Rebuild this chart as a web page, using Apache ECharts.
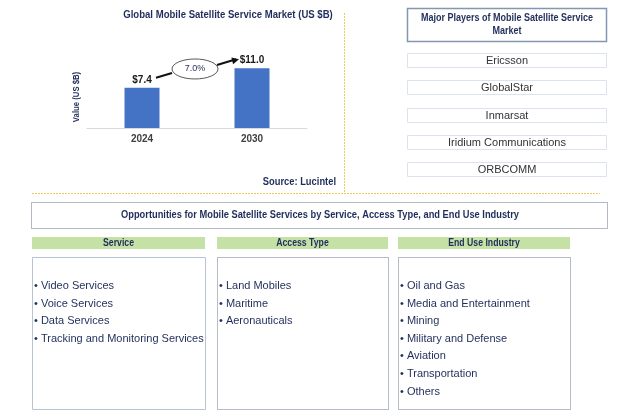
<!DOCTYPE html>
<html>
<head>
<meta charset="utf-8">
<script src="https://cdn.jsdelivr.net/npm/echarts@6/dist/echarts.min.js"></script>
<style>
html,body{margin:0;padding:0;background:#fff;}
#chart{width:641px;height:420px;}
</style>
</head>
<body>
<div id="chart"></div>
<script>
// ---- data ----
const years = ['2024', '2030'];
const marketValues = [7.4, 11.0];
const cagrLabel = '7.0%';
const chartTitle = 'Global Mobile Satellite Service Market (US $B)';
const yAxisName = 'Value (US $B)';
const sourceText = 'Source: Lucintel';
const playersTitle = ['Major Players of Mobile Satellite Service', 'Market'];
const players = ['Ericsson', 'GlobalStar', 'Inmarsat', 'Iridium Communications', 'ORBCOMM'];
const opportunitiesTitle = 'Opportunities for Mobile Satellite Services by Service, Access Type, and End Use Industry';
const segmentTitles = ['Service', 'Access Type', 'End Use Industry'];
const serviceItems = ['Video Services', 'Voice Services', 'Data Services', 'Tracking and Monitoring Services'];
const accessItems = ['Land Mobiles', 'Maritime', 'Aeronauticals'];
const endUseItems = ['Oil and Gas', 'Media and Entertainment', 'Mining', 'Military and Defense', 'Aviation', 'Transportation', 'Others'];

// ---- styles ----
const NAVY = '#1f2d5a';
const SANS = "'Liberation Sans', Arial, sans-serif";
const GOLD = '#f1c85a';

const chart = echarts.init(document.getElementById('chart'), null, {renderer: 'canvas'});

const option = {
  backgroundColor: '#ffffff',
  animation: false,
  grid: {left: 87, right: 641 - 307, top: 41, bottom: 420 - 128, containLabel: false},
  xAxis: {
    type: 'category',
    data: years,
    axisLine: {show: true, lineStyle: {color: '#d9d9d9', width: 1}},
    axisTick: {show: false},
    axisLabel: {color: '#404040', fontFamily: SANS, fontSize: 10, fontWeight: 'bold', margin: 6}
  },
  yAxis: {
    type: 'value',
    min: 0,
    max: 16,
    axisLine: {show: false},
    axisTick: {show: false},
    axisLabel: {show: false},
    splitLine: {show: false}
  },
  series: [{
    type: 'bar',
    data: marketValues,
    barWidth: 35,
    itemStyle: {color: '#4472c4'},
    label: {
      show: true,
      position: 'top',
      distance: 3,
      formatter: p => '$' + p.value.toFixed(1),
      color: '#1a1a1a',
      fontFamily: SANS,
      fontSize: 10,
      fontWeight: 'bold'
    }
  }]
};
chart.setOption(option);

// ---- annotations & layout boxes ----
const g = [];
function text(t, x, y, font, fill, align, sx, rot) {
  g.push({type: 'text', silent: true, x: x, y: y, scaleX: sx || 1, rotation: rot || 0,
    style: {text: t, x: 0, y: 0, font: font, fill: fill, align: align || 'center', verticalAlign: 'middle'}});
}
function rect(x, y, w, h, style) {
  g.push({type: 'rect', silent: true, shape: {x: x, y: y, width: w, height: h}, style: style});
}
function line(x1, y1, x2, y2, style) {
  g.push({type: 'line', silent: true, shape: {x1: x1, y1: y1, x2: x2, y2: y2}, style: style});
}
function arrow(x1, y1, x2, y2) {
  line(x1, y1, x2, y2, {stroke: '#111', lineWidth: 2});
}
function arrowHead(x1, y1, x2, y2) {
  const a = Math.atan2(y2 - y1, x2 - x1), L = 7, W = 3.5;
  const bx = x2 - L * Math.cos(a), by = y2 - L * Math.sin(a);
  g.push({type: 'polygon', silent: true, shape: {points: [[x2, y2],
    [bx + W * Math.sin(a), by - W * Math.cos(a)], [bx - W * Math.sin(a), by + W * Math.cos(a)]]},
    style: {fill: '#111'}});
}

const NB = 0.87; // condensed look for bold headings

// chart title, axis name & source
text(chartTitle, 228, 15, 'bold 11px ' + SANS, NAVY, 'center', NB);
text(yAxisName, 77, 97, 'bold 9px ' + SANS, NAVY, 'center', 0.86, Math.PI / 2);
text(sourceText, 336, 182, 'bold 11px ' + SANS, NAVY, 'right', 0.85);

// gold dashed separators
line(344.5, 13, 344.5, 193, {stroke: GOLD, lineWidth: 1, lineDash: [2, 1]});
line(32, 193.5, 600, 193.5, {stroke: GOLD, lineWidth: 1, lineDash: [2, 1]});

// CAGR bubble between the bar labels (positions derived from data)
const p0 = chart.convertToPixel({gridIndex: 0}, [0, marketValues[0]]);
const p1 = chart.convertToPixel({gridIndex: 0}, [1, marketValues[1]]);
const l0 = [p0[0], p0[1] - 9];
const l1 = [p1[0], p1[1] - 9];
const cx = (l0[0] + l1[0]) / 2 - 2, cy = (l0[1] + l1[1]) / 2;
g.push({type: 'ellipse', silent: true, shape: {cx: cx, cy: cy, rx: 23, ry: 10},
  style: {fill: '#fff', stroke: '#595959', lineWidth: 1}});
text(cagrLabel, cx, cy, '9px ' + SANS, NAVY);
arrow(l0[0] + 14, l0[1] - 1, cx - 23, cy + 4);
arrow(cx + 22, cy - 4, l1[0] - 16, l1[1]);
arrowHead(cx + 22, cy - 4, l1[0] - 13, l1[1]);

// Major players panel
rect(407.5, 8.5, 199, 33, {fill: '#fff', stroke: '#8496b0', lineWidth: 1.5});
text(playersTitle[0], 507, 18.5, 'bold 10px ' + SANS, NAVY, 'center', 0.9);
text(playersTitle[1], 507, 31, 'bold 10px ' + SANS, NAVY, 'center', 0.9);
players.forEach((p, i) => {
  const y = Math.round(53 + i * 27.3);
  rect(407.5, y + 0.5, 199, 14, {fill: '#fff', stroke: '#dde3ee', lineWidth: 1});
  text(p, 507, y + 8, '11px ' + SANS, '#333333');
});

// opportunities panel
rect(31.5, 202.5, 576, 26, {fill: '#fff', stroke: '#66738c', lineWidth: 1, lineDash: [1, 1]});
text(opportunitiesTitle, 320, 215.5, 'bold 10.5px ' + SANS, NAVY, 'center', 0.885);

const cols = [
  {x: 32, w: 173, items: serviceItems, dash: null},
  {x: 217, w: 171, items: accessItems, dash: [1, 1]},
  {x: 398, w: 172, items: endUseItems, dash: [1, 1]}
];
cols.forEach((c, i) => {
  rect(c.x, 237, c.w, 12, {fill: '#c5e1a5', stroke: null});
  text(segmentTitles[i], c.x + c.w / 2, 243.5, 'bold 10px ' + SANS, NAVY, 'center', NB);
  rect(c.x + 0.5, 257.5, c.w, 152, {fill: '#fff', stroke: c.dash ? '#6f7a90' : '#b9c3d6', lineWidth: 1, lineDash: c.dash || undefined});
  c.items.forEach((it, j) => {
    text('\u2022 ' + it, c.x + 2, 286 + j * 17.6, '11px ' + SANS, NAVY, 'left');
  });
});

chart.setOption({graphic: {elements: g}});
</script>
</body>
</html>
